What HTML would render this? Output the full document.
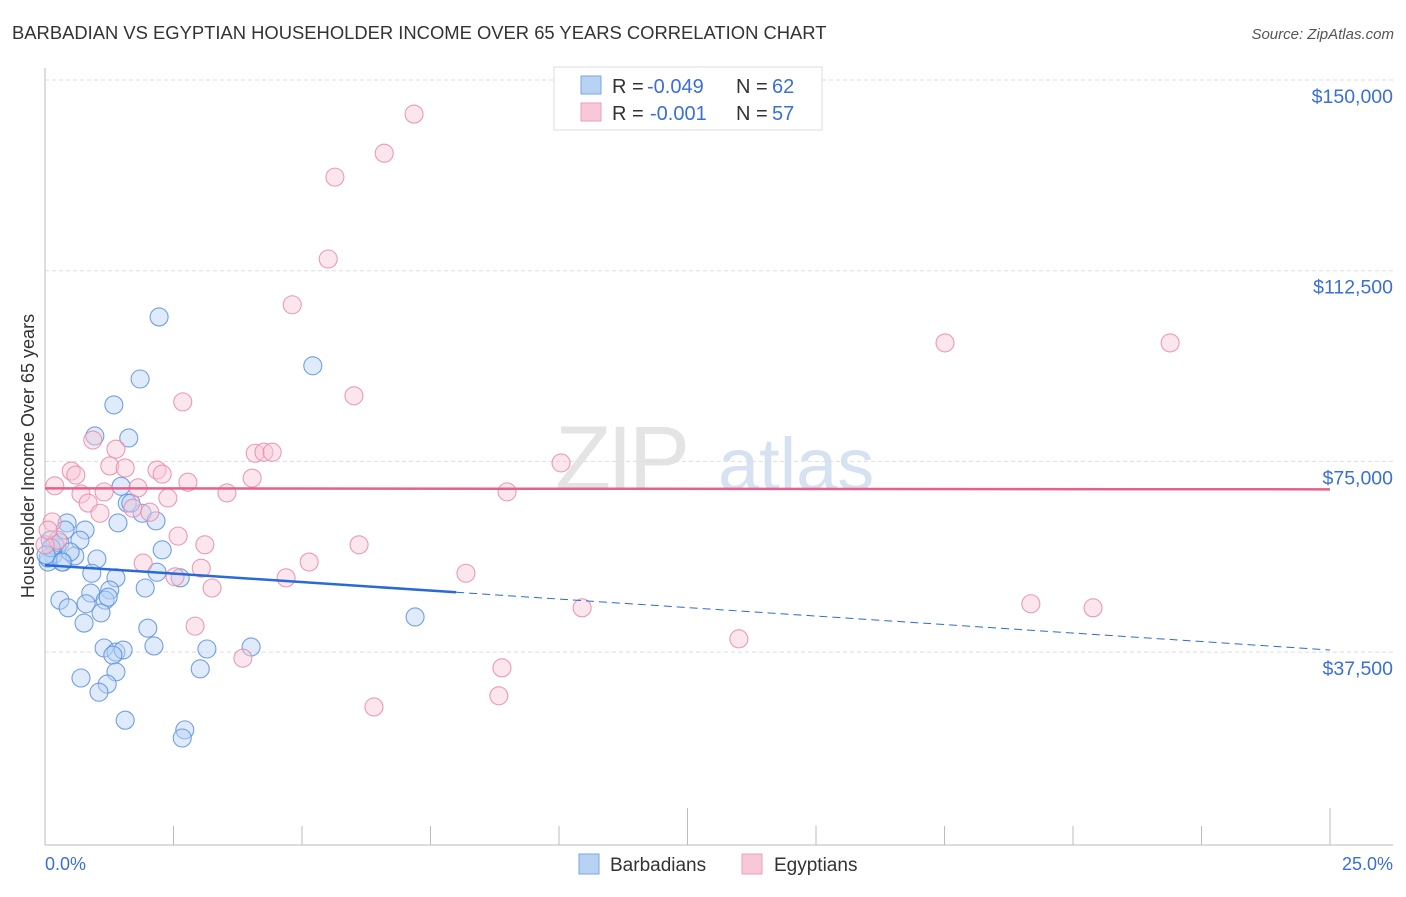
<!DOCTYPE html>
<html><head><meta charset="utf-8"><style>
body{margin:0;background:#fff;font-family:"Liberation Sans",sans-serif;}
svg text{font-family:"Liberation Sans",sans-serif;}
</style></head><body>
<svg id="chart" width="1406" height="892" xmlns="http://www.w3.org/2000/svg">
<text x="12" y="39" font-size="18.4" fill="#333">BARBADIAN VS EGYPTIAN HOUSEHOLDER INCOME OVER 65 YEARS CORRELATION CHART</text>
<text x="1394" y="39" font-size="15" fill="#555" text-anchor="end" font-style="italic">Source: ZipAtlas.com</text>
<g>
<text x="555" y="490" font-size="92" fill="#e4e4e4" font-family="Liberation Serif" letter-spacing="-4">ZIP</text>
<text x="718" y="490" font-size="74" fill="#d6e2f2">atlas</text>
</g>
<g id="grid"></g>
<g id="axes"></g>
<g id="points"></g>
<g id="trends"></g>
<text transform="translate(34,456) rotate(-90)" font-size="18" fill="#333" text-anchor="middle">Householder Income Over 65 years</text>
<text x="45" y="870" font-size="18" fill="#3a6fd8">0.0%</text>
<text x="1393" y="870" font-size="18" fill="#3a6fd8" text-anchor="end">25.0%</text>
<g>
<rect x="554" y="67" width="268" height="63" fill="#fff" stroke="#ddd"/>
<rect x="581" y="76" width="20" height="18" fill="#b8d2f4" stroke="#7aa6e6"/>
<rect x="581" y="103" width="20" height="18" fill="#f8c8d6" stroke="#eba0b6"/>
<text x="612" y="93" font-size="20" fill="#333">R =</text>
<text x="647" y="93" font-size="20" fill="#3a6fd8">-0.049</text>
<text x="736" y="93" font-size="20" fill="#333">N =</text>
<text x="772" y="93" font-size="20" fill="#3a6fd8">62</text>
<text x="612" y="120" font-size="20" fill="#333">R =</text>
<text x="650" y="120" font-size="20" fill="#3a6fd8">-0.001</text>
<text x="736" y="120" font-size="20" fill="#333">N =</text>
<text x="772" y="120" font-size="20" fill="#3a6fd8">57</text>
</g>
<g>
<rect x="579" y="854" width="20" height="20" fill="#b8d2f4" stroke="#7aa6e6"/>
<text x="610" y="871" font-size="19" fill="#333">Barbadians</text>
<rect x="742" y="854" width="20" height="20" fill="#f8c8d6" stroke="#eba0b6"/>
<text x="774" y="871" font-size="19" fill="#333">Egyptians</text>
</g>
</svg>
<script>
const yTicks=[150000,112500,75000,37500];
const yTickLabels=["$150,000","$112,500","$75,000","$37,500"];
const blueX=[2.22,5.21,1.85,1.34,0.97,1.63,1.48,1.60,1.89,2.16,1.42,0.43,0.78,0.10,0.68,0.23,0.16,1.01,0.35,0.58,2.28,0.06,0.91,2.18,2.63,1.38,1.95,1.26,0.29,0.89,0.80,1.17,0.45,1.09,0.76,2.00,7.20,2.12,1.15,4.01,1.38,1.52,3.15,1.32,1.38,3.02,0.70,1.21,1.05,1.56,2.72,2.67,0.19,0.29,0.06,0.49,0.39,0.12,0.33,1.23,1.67,0.02];
const blueY=[103.4,93.8,91.2,86.1,80.0,79.6,70.1,66.8,64.8,63.3,62.9,62.9,61.5,59.5,59.5,58.0,56.6,55.8,55.2,56.4,57.6,55.2,53.0,53.2,52.1,52.1,50.1,49.7,47.7,49.1,47.0,47.7,46.2,45.2,43.2,42.2,44.4,38.7,38.3,38.5,37.5,37.9,38.1,36.9,33.6,34.2,32.4,31.2,29.6,24.1,22.2,20.6,58.6,59.0,56.0,57.2,61.5,58.0,55.2,48.3,66.8,56.6];
const pinkX=[7.18,6.60,5.64,5.51,4.81,17.51,21.89,6.01,2.68,0.93,1.38,10.04,4.09,4.26,4.42,0.51,0.60,1.26,1.56,2.18,2.28,2.78,4.03,0.19,0.70,1.15,1.81,3.54,8.99,0.84,2.39,1.07,1.71,2.04,2.59,3.11,6.11,0.14,0.25,0.00,1.91,5.14,2.53,3.04,3.25,4.69,8.19,10.45,19.18,20.39,2.92,13.50,3.85,8.89,8.83,6.40,0.06];
const pinkY=[143.3,135.6,130.9,114.8,105.8,98.3,98.3,87.9,86.7,79.2,77.4,74.7,76.6,76.8,76.8,73.1,72.3,74.1,73.7,73.3,72.5,70.9,71.7,70.2,68.6,69.0,69.8,68.8,69.0,66.8,67.8,64.8,65.8,65.0,60.3,58.6,58.6,63.1,59.5,58.6,55.0,55.2,52.3,54.0,50.1,52.1,53.0,46.2,47.0,46.2,42.6,40.1,36.3,34.4,28.9,26.7,61.5];
const blueTrend=[54.6,37.9];
const pinkTrend=[69.7,69.5];
const blueSolidEnd=8.0;
const NS="http://www.w3.org/2000/svg";
const X0=45,X1=1330;
function xs(p){return X0+p/25*(X1-X0);}
function ys(k){return 80+(150-k)*5.085;}
function mk(tag,attrs,parent){const e=document.createElementNS(NS,tag);for(const k in attrs)e.setAttribute(k,attrs[k]);document.getElementById(parent).appendChild(e);return e;}
yTicks.forEach((v,i)=>{
  const y=ys(v/1000);
  const g=mk('line',{x1:45,x2:1393,y1:y,y2:y,stroke:'#ddd','stroke-dasharray':'4,3'},'grid');
  
  
  const t=mk('text',{x:1393,y:y+23,'font-size':19.5,fill:'#3a6fd8','text-anchor':'end'},'grid');
  t.textContent=yTickLabels[i];
  
  
});
const ax=mk('line',{x1:45,x2:45,y1:68,y2:845,stroke:'#bbb'},'axes');


const bx=mk('line',{x1:45,x2:1393,y1:845,y2:845,stroke:'#bbb'},'axes');


for(let i=0;i<=10;i++){
  const x=xs(i*2.5);const major=(i===0||i===5||i===10);
  const t=mk('line',{x1:x,x2:x,y1:major?808:826,y2:845,stroke:'#bbb'},'axes');
  
  
}
function dots(X,Y,fill,stroke,name){
  X.forEach((p,i)=>{
    const c=mk('circle',{cx:xs(p),cy:ys(Y[i]),r:9,fill:fill,'fill-opacity':0.45,stroke:stroke,'stroke-width':1.1,'stroke-opacity':0.85},'points');
    
    
  });
}
dots(blueX,blueY,'#b8d2f4','#5b8fe0','barbadian-point');
dots(pinkX,pinkY,'#f8c8d6','#e98aa8','egyptian-point');
function ty(tr,p){return tr[0]+(tr[1]-tr[0])*p/25;}
const bs=mk('line',{x1:xs(0),y1:ys(ty(blueTrend,0)),x2:xs(blueSolidEnd),y2:ys(ty(blueTrend,blueSolidEnd)),stroke:'#2a6ad8','stroke-width':2.5},'trends');


const bd=mk('line',{x1:xs(blueSolidEnd),y1:ys(ty(blueTrend,blueSolidEnd)),x2:xs(25),y2:ys(ty(blueTrend,25)),stroke:'#2a6ad8','stroke-width':1,'stroke-dasharray':'8,5'},'trends');


const pl=mk('line',{x1:xs(0),y1:ys(pinkTrend[0]),x2:xs(25),y2:ys(pinkTrend[1]),stroke:'#e8608a','stroke-width':2.5},'trends');


</script>
</body></html>
